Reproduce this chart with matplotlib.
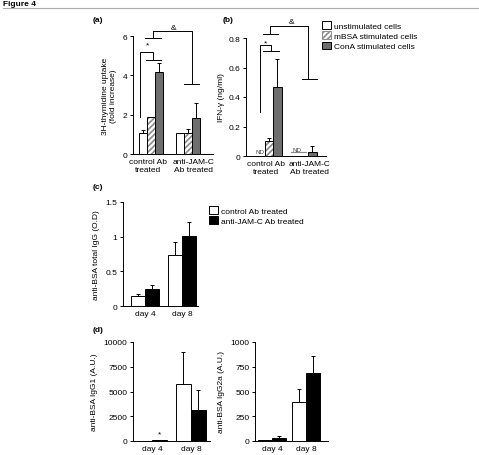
import numpy as np
import matplotlib
matplotlib.use("Agg")
import matplotlib.pyplot as plt
from matplotlib.patches import Patch

plt.rcParams['font.family'] = ['Liberation Sans', 'DejaVu Sans']
plt.rcParams['font.size'] = 6
plt.rcParams['axes.linewidth'] = 0.7
plt.rcParams['xtick.major.width'] = 0.7
plt.rcParams['ytick.major.width'] = 0.7
plt.rcParams['xtick.major.size'] = 2
plt.rcParams['ytick.major.size'] = 2
plt.rcParams['hatch.linewidth'] = 1.2

# panel a/b groups
groups_ab = ["control Ab\ntreated", "anti-JAM-C\nAb treated"]
stim_labels = ["unstimulated cells", "mBSA stimulated cells", "ConA stimulated cells"]

# (a) 3H-thymidine uptake
thy_unstim = [1.05, 1.05]
thy_unstim_err = [0.15, 0.0]
thy_mbsa = [1.9, 1.05]
thy_mbsa_err = [0.0, 0.2]
thy_cona = [4.15, 1.85]
thy_cona_err = [0.5, 0.72]

# (b) IFN-gamma, ND = not detected
ifn_unstim = [0.0, 0.0]
ifn_mbsa = [0.1, 0.0]
ifn_mbsa_err = [0.025, 0.0]
ifn_cona = [0.465, 0.03]
ifn_cona_err = [0.19, 0.036]

# (c) and (d)
days = ["day 4", "day 8"]
treat_labels = ["control Ab treated", "anti-JAM-C Ab treated"]
igg_ctrl = [0.15, 0.73]
igg_ctrl_err = [0.03, 0.19]
igg_jam = [0.24, 1.01]
igg_jam_err = [0.06, 0.2]

igg1_ctrl = [30, 5750]
igg1_ctrl_err = [0, 3250]
igg1_jam = [120, 3100]
igg1_jam_err = [0, 2100]

igg2a_ctrl = [8, 395]
igg2a_ctrl_err = [0, 130]
igg2a_jam = [28, 685]
igg2a_jam_err = [20, 175]

W, H = 479, 456
fig = plt.figure(figsize=(W / 100, H / 100), dpi=100)


def box(l, t, r, b):
    return [l / W, 1 - b / H, (r - l) / W, (b - t) / H]


def style(ax):
    ax.spines['top'].set_visible(False)
    ax.spines['right'].set_visible(False)
    ax.tick_params(axis='x', length=0, pad=3)
    ax.tick_params(axis='y', pad=2)


def errs(ax, x, v, e):
    ax.errorbar(x, v, yerr=[np.zeros(len(e)), e], fmt='none', ecolor='black',
                elinewidth=0.7, capsize=1.5, capthick=0.7)


def hatched(ax, x, v, w):
    ax.bar(x, v, w, color='white', edgecolor='#8a8a8a', hatch='//////', lw=0)
    ax.bar(x, v, w, fill=False, edgecolor='black', lw=0.7)


def bracket(ax, pts):
    xs, ys = zip(*pts)
    ax.plot(xs, ys, color='black', lw=0.7, clip_on=False)


# header
fig.text(3 / W, 1 - 4 / H, "Figure 4", fontsize=6, fontweight='bold', va='center')
fig.add_artist(plt.Line2D([3 / W, 1], [1 - 9 / H, 1 - 9 / H], color='#aaaaaa', lw=0.8))

# ---------- (a)
x = np.arange(2)
w = 0.216
ax = fig.add_axes(box(133, 37, 213, 155))
ax.bar(x - w, thy_unstim, w, color='white', edgecolor='black', lw=0.7)
hatched(ax, x, thy_mbsa, w)
ax.bar(x + w, thy_cona, w, color='#6e6e6e', edgecolor='black', lw=0.7)
errs(ax, x - w, thy_unstim, thy_unstim_err)
errs(ax, x, thy_mbsa, thy_mbsa_err)
errs(ax, x + w, thy_cona, thy_cona_err)
ax.set_xlim(-0.49, 1.68)
ax.set_ylim(0, 6)
ax.set_yticks([0, 2, 4, 6])
ax.set_xticks(x + np.array([-0.07, 0.16]))
ax.set_xticklabels(groups_ab)
ax.set_ylabel("3H-thymidine uptake\n(fold increase)", labelpad=4)
style(ax)
bracket(ax, [(-0.30, 1.9), (-0.30, 5.2), (0.05, 5.2), (0.05, 4.78)])
bracket(ax, [(-0.135, 4.78), (0.27, 4.78)])
ax.text(-0.11, 5.55, "*", ha='center', va='center')
bracket(ax, [(-0.16, 5.88), (0.27, 5.88)])
bracket(ax, [(0.05, 5.88), (0.05, 6.25), (1.11, 6.25), (1.11, 3.56)])
bracket(ax, [(0.89, 3.56), (1.3, 3.56)])
ax.text(0.6, 6.45, "&", ha='center', va='center')
fig.text(93 / W, 1 - 20 / H, "(a)", fontsize=6, fontweight='bold', va='center')

# ---------- (b)
w = 0.24
ax = fig.add_axes(box(246, 39, 326, 157))
ax.bar(x - w, ifn_unstim, w, color='white', edgecolor='black', lw=0.7)
hatched(ax, x, ifn_mbsa, w)
ax.bar(x + w, ifn_cona, w, color='#6e6e6e', edgecolor='black', lw=0.7)
errs(ax, x, ifn_mbsa, ifn_mbsa_err)
errs(ax, x + w, ifn_cona, ifn_cona_err)
ax.text(x[0] - w - 0.03, 0.012, "ND", fontsize=4.5, ha='center', va='bottom', color='#444444')
ax.text(x[1] - w + 0.05, 0.03, "ND", fontsize=4.5, ha='center', va='bottom', color='#444444')
ax.plot([x[1] - w * 1.5, x[1] + 0.05], [0.024, 0.024], color='#888888', lw=0.8)
ax.set_xlim(-0.66, 1.63)
ax.set_ylim(0, 0.8)
ax.set_yticks([0, 0.2, 0.4, 0.6, 0.8])
ax.set_yticklabels(["0", "0.2", "0.4", "0.6", "0.8"])
ax.set_xticks(x + np.array([-0.08, 0.16]))
ax.set_xticklabels(groups_ab)
ax.set_ylabel("IFN-γ (ng/ml)", labelpad=3)
style(ax)
bracket(ax, [(-0.26, 0.3), (-0.26, 0.75), (0.06, 0.75), (0.06, 0.71)])
bracket(ax, [(-0.17, 0.71), (0.29, 0.71)])
ax.text(-0.09, 0.77, "*", ha='center', va='center')
bracket(ax, [(-0.17, 0.83), (0.26, 0.83)])
bracket(ax, [(0.03, 0.83), (0.03, 0.88), (1.11, 0.88), (1.11, 0.52)])
bracket(ax, [(0.94, 0.52), (1.37, 0.52)])
ax.text(0.63, 0.91, "&", ha='center', va='center')
fig.text(223 / W, 1 - 20 / H, "(b)", fontsize=6, fontweight='bold', va='center')

# legend for a/b
handles = [Patch(facecolor='white', edgecolor='black', lw=0.7),
           Patch(facecolor='white', edgecolor='#8a8a8a', hatch='//////', lw=0.7),
           Patch(facecolor='#6e6e6e', edgecolor='black', lw=0.7)]
fig.legend(handles, stim_labels, loc='upper left', bbox_to_anchor=(318 / W, 1 - 18 / H),
           frameon=False, fontsize=6, handlelength=1.0, handleheight=1.0,
           handletextpad=0.4, labelspacing=0.2, borderpad=0)

# ---------- (c)
w = 0.38
ax = fig.add_axes(box(123, 203, 198, 307))
ax.bar(x - w / 2, igg_ctrl, w, color='white', edgecolor='black', lw=0.7, label=treat_labels[0])
ax.bar(x + w / 2, igg_jam, w, color='black', edgecolor='black', lw=0.7, label=treat_labels[1])
errs(ax, x - w / 2, igg_ctrl, igg_ctrl_err)
errs(ax, x + w / 2, igg_jam, igg_jam_err)
ax.set_xlim(-0.59, 1.43)
ax.set_ylim(0, 1.5)
ax.set_yticks([0, 0.5, 1, 1.5])
ax.set_yticklabels(["0", "0.5", "1", "1.5"])
ax.set_xticks(x)
ax.set_xticklabels(days)
ax.set_ylabel("anti-BSA total IgG (O.D)", labelpad=4)
style(ax)
ax.legend(loc='upper left', bbox_to_anchor=(205 / W, 1 - 203 / H), bbox_transform=fig.transFigure,
          frameon=False, fontsize=6, handlelength=1.0, handleheight=1.0,
          handletextpad=0.4, labelspacing=0.2, borderpad=0)
fig.text(93 / W, 1 - 188 / H, "(c)", fontsize=6, fontweight='bold', va='center')

# ---------- (d) IgG1
w = 0.385
ax = fig.add_axes(box(133, 343, 210, 442))
ax.bar(x - w / 2, igg1_ctrl, w, color='white', edgecolor='black', lw=0.7)
ax.bar(x + w / 2, igg1_jam, w, color='black', edgecolor='black', lw=0.7)
errs(ax, x - w / 2, igg1_ctrl, igg1_ctrl_err)
errs(ax, x + w / 2, igg1_jam, igg1_jam_err)
ax.text(x[0] + w / 2, 700, "*", ha='center', va='center')
ax.set_xlim(-0.49, 1.49)
ax.set_ylim(0, 10000)
ax.set_yticks([0, 2500, 5000, 7500, 10000])
ax.set_xticks(x)
ax.set_xticklabels(days)
ax.set_ylabel("anti-BSA IgG1 (A.U.)", labelpad=4)
style(ax)
fig.text(93 / W, 1 - 330 / H, "(d)", fontsize=6, fontweight='bold', va='center')

# ---------- (d) IgG2a
w = 0.41
ax = fig.add_axes(box(255, 343, 328, 442))
ax.bar(x - w / 2, igg2a_ctrl, w, color='white', edgecolor='black', lw=0.7)
ax.bar(x + w / 2, igg2a_jam, w, color='black', edgecolor='black', lw=0.7)
errs(ax, x - w / 2, igg2a_ctrl, igg2a_ctrl_err)
errs(ax, x + w / 2, igg2a_jam, igg2a_jam_err)
ax.set_xlim(-0.5, 1.65)
ax.set_ylim(0, 1000)
ax.set_yticks([0, 250, 500, 750, 1000])
ax.set_xticks(x)
ax.set_xticklabels(days)
ax.set_ylabel("anti-BSA IgG2a (A.U.)", labelpad=4)
style(ax)

fig.savefig("out.png", dpi=100)
